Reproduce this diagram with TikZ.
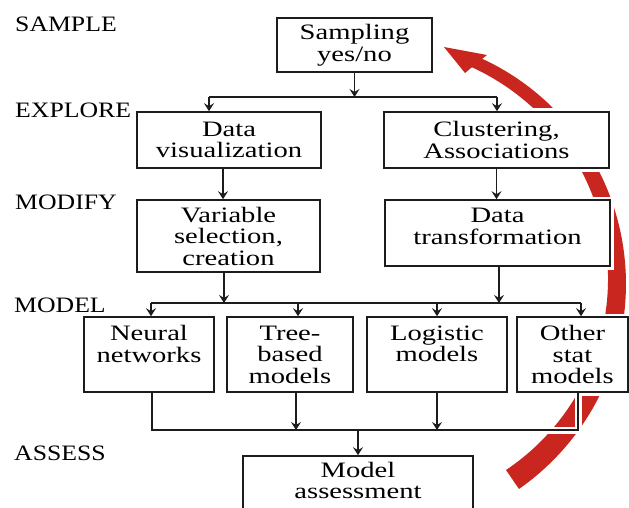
\documentclass[tikz,border=0pt]{standalone}
\usepackage{fontspec}
\setmainfont{Liberation Serif}
\newfontfamily\boxfont[FakeStretch=1.3]{Liberation Serif}
\newfontfamily\stagefont[FakeStretch=1.17]{Liberation Serif}
\usetikzlibrary{arrows.meta}
\pgfdeclarelayer{back}
\pgfdeclarelayer{mask}
\pgfsetlayers{back,mask,main}
\definecolor{cyclered}{RGB}{200,38,30}
\definecolor{ink}{RGB}{28,28,28}

% all connectors of the flow chart; drawn once as a white mask, once in ink
\newcommand\flowlinks{%
  \draw[arr] (samp.south) -- (samp.south |- tL);
  \draw[link] (tL) -- (tR);
  \draw[arr] (tL) -- (tL |- dvis.north);
  \draw[arr] (tR) -- (tR |- clus.north);
  \draw[arr] (dvisOut) -- (dvisOut |- vsel.north);
  \draw[arr] (clus.south) -- (clus.south |- dtra.north);
  \draw[arr] (vselOut) -- (vselOut |- mL);
  \draw[arr] (dtraOut) -- (dtraOut |- mL);
  \draw[link] (mL) -- (mR);
  \draw[arr] (mL) -- (mL |- neur.north);
  \draw[arr] (treeIn |- mL) -- (treeIn);
  \draw[arr] (logi.north |- mL) -- (logi.north);
  \draw[arr] (mR) -- (mR |- othr.north);
  \draw[link] (bL |- neur.south) -- (bL) -- (bR) -- (bR |- othr.south);
  \draw[arr] (treeOut) -- (treeOut |- bL);
  \draw[arr] (logi.south) -- (logi.south |- bL);
  \draw[arr] (asmt.north |- bL) -- (asmt.north);
}

\begin{document}
\begin{tikzpicture}[x=1pt, y=-1pt,
  link/.style={draw=ink, line width=1.5pt},
  arr/.style={link, -{Stealth[length=8pt,width=10pt,inset=3pt]}},
  box/.style={draw=ink, line width=1.6pt, fill=white, inner sep=0pt,
    align=center, font=\boxfont\fontsize{22}{21.5}\selectfont,
    minimum height=75pt, preaction={draw=white, line width=7pt}},
  stage/.style={anchor=base west, inner sep=0pt,
    font=\stagefont\fontsize{22}{22}\selectfont}]

\useasboundingbox (0,0) rectangle (629,508);

% the SEMMA cycle arrow behind the chart
\begin{pgfonlayer}{back}
  \fill[white] (0,0) rectangle (629,508);
  \begin{scope}
    \clip (0,0) rectangle (629,508);
    \fill[cyclered]
      plot[variable=\t, domain=-55.6:66.5, samples=90]
        ({376.8+(240.2+(11.5-5.5*(\t+55.6)/120.9))*cos(\t)},
         {281.3-(240.2+(11.5-5.5*(\t+55.6)/120.9))*sin(\t)})
      -- plot[variable=\t, domain=66.5:-55.6, samples=90]
        ({376.8+(240.2-(11.5-5.5*(\t+55.6)/120.9))*cos(\t)},
         {281.3-(240.2-(11.5-5.5*(\t+55.6)/120.9))*sin(\t)})
      -- cycle;
    \fill[cyclered] (444,47) -- (487,55) -- (477,63) -- (465,73) -- cycle;
  \end{scope}
\end{pgfonlayer}

\begin{scope}
\clip (0,0) rectangle (629,508);

% process boxes
\node[box, minimum width=155pt, minimum height=54pt] (samp) at (354.5,45) {Sampling\\yes/no};
\node[box, minimum width=184pt, minimum height=56pt] (dvis) at (229,140) {Data\\visualization};
\node[box, minimum width=225pt, minimum height=56pt] (clus) at (496.5,140) {Clustering,\\Associations};
\node[box, minimum width=183pt, minimum height=72pt] (vsel) at (228.5,236) {Variable\\selection,\\creation};
\node[box, minimum width=225pt, minimum height=66pt] (dtra) at (497.5,233) {Data\\transformation\\[-8pt]\mbox{}};
\node[box, minimum width=130pt] (neur) at (149,354.5) {Neural\\networks\\\mbox{}};
\node[box, minimum width=126pt] (tree) at (290,354.5) {Tree-\\based\\models};
\node[box, minimum width=140pt] (logi) at (437,354.5) {Logistic\\models\\\mbox{}};
\node[box, minimum width=111pt] (othr) at (572.5,354.5) {Other\\stat\\models};
\node[box, minimum width=230pt, minimum height=58pt] (asmt) at (358,485) {Model\\assessment\\[-12pt]\mbox{}};

% stage names
\node[stage] (sSample)  at (15,32)  {SAMPLE};
\node[stage] (sExplore) at (15,118) {EXPLORE};
\node[stage] (sModify)  at (15,209) {MODIFY};
\node[stage] (sModel)   at (14,312) {MODEL};
\node[stage] (sAssess)  at (14,460) {ASSESS};

% branching points
\coordinate (tL) at (209,97);
\coordinate (tR) at (497,97);
\coordinate (mL) at (151,303);
\coordinate (mR) at (581,303);
\coordinate (bL) at (152,430);
\coordinate (bR) at (578,430);
\coordinate (dvisOut) at ([xshift=-6pt]dvis.south);
\coordinate (vselOut) at ([xshift=-4.5pt]vsel.south);
\coordinate (dtraOut) at ([xshift=1.5pt]dtra.south);
\coordinate (treeIn)  at ([xshift=8pt]tree.north);
\coordinate (treeOut) at ([xshift=6pt]tree.south);

% white gaps where connectors pass over the cycle arrow
\begin{pgfonlayer}{mask}
  \begin{scope}[link/.style={draw=white, line width=7pt},
                arr/.style={draw=white, line width=7pt}]
    \flowlinks
  \end{scope}
\end{pgfonlayer}

\flowlinks
\end{scope}
\end{tikzpicture}
\end{document}
